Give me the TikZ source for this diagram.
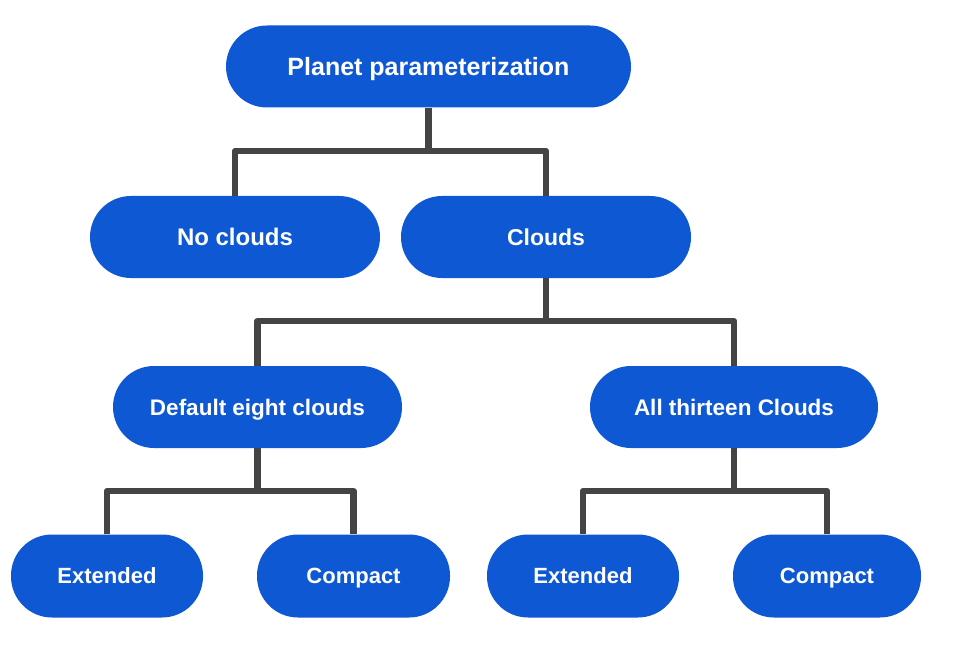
\documentclass[tikz,border=0pt]{standalone}
\usepackage{fontspec}
\setmainfont{Liberation Sans}
\definecolor{boxblue}{HTML}{0E59D3}
\definecolor{linegray}{HTML}{444444}
\begin{document}
\begin{tikzpicture}[x=1pt,y=-1pt,
  pill/.style={draw=none, fill=boxblue, text=white, rectangle, rounded corners=41pt,
    minimum height=82pt, inner sep=0pt, text height=15.75pt, text depth=0pt,
    font=\bfseries\fontsize{22}{26}\selectfont},
  conn/.style={draw=linegray, line width=6.5pt, line join=round}]
\useasboundingbox (0,0) rectangle (961,663);
\node[pill, minimum width=405pt, text height=17.9pt, font=\bfseries\fontsize{25}{28}\selectfont] (top) at (428.5,66.5) {Planet parameterization};
\node[pill, minimum width=290pt, text height=17.2pt, font=\bfseries\fontsize{24}{28}\selectfont] (noclouds) at (235,237) {No clouds};
\node[pill, minimum width=290pt, text height=16.5pt, font=\bfseries\fontsize{23}{28}\selectfont] (clouds) at (546,237) {Clouds};
\node[pill, minimum width=289pt, text height=16.1pt, font=\bfseries\fontsize{22.5}{26}\selectfont] (default) at (257.5,407) {Default eight clouds};
\node[pill, minimum width=288pt, text height=16.1pt, font=\bfseries\fontsize{22.5}{26}\selectfont] (allthirteen) at (734,407) {All thirteen Clouds};
\node[pill, minimum width=192pt, minimum height=83pt] (ext1) at (107,576) {Extended};
\node[pill, minimum width=193pt, minimum height=83pt] (comp1) at (353.5,576) {Compact};
\node[pill, minimum width=192pt, minimum height=83pt] (ext2) at (583,576) {Extended};
\node[pill, minimum width=188pt, minimum height=83pt] (comp2) at (827,576) {Compact};
\coordinate (j1) at (428.5,151);
\coordinate (j2) at (546,321);
\coordinate (j3) at (257.5,491);
\coordinate (j4) at (734,491);
\draw[conn] (top.south) -- (j1);
\draw[conn] (noclouds.north) |- (j1) -| (clouds.north);
\draw[conn] (clouds.south) -- (j2);
\draw[conn] (default.north) |- (j2) -| (allthirteen.north);
\draw[conn] (default.south) -- (j3);
\draw[conn] (ext1.north) |- (j3) -| (comp1.north);
\draw[conn] (allthirteen.south) -- (j4);
\draw[conn] (ext2.north) |- (j4) -| (comp2.north);
\end{tikzpicture}
\end{document}
